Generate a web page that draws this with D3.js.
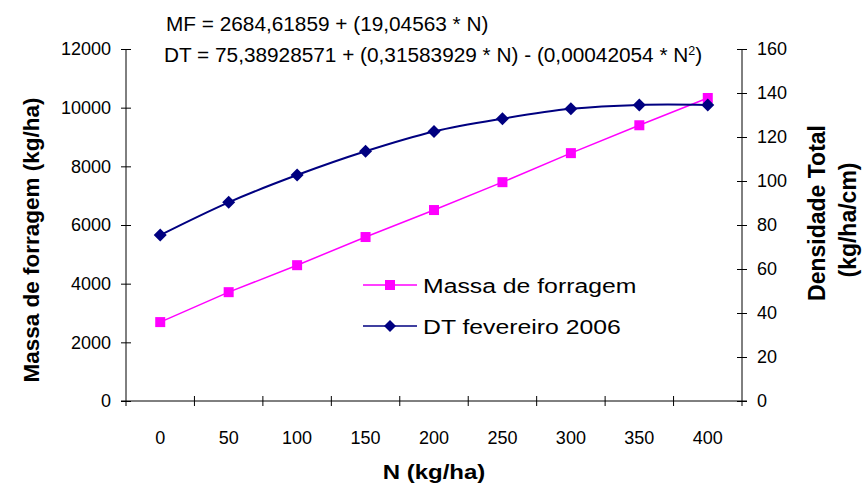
<!DOCTYPE html>
<html><head><meta charset="utf-8">
<script src="https://cdn.jsdelivr.net/npm/d3@7"></script>
<style>body{margin:0;background:#fff}text{font-family:"Liberation Sans",Arial,sans-serif}</style>
</head><body><svg id="c" width="864" height="489"></svg>
<script>
const categories = ["0","50","100","150","200","250","300","350","400"];
const massaForragem = [2690, 3710, 4630, 5590, 6510, 7460, 8450, 9400, 10330];
const dtFevereiro = [75.4, 90.3, 102.7, 113.5, 122.5, 128.3, 132.8, 134.6, 134.6];
const leftTicks = [0,2000,4000,6000,8000,10000,12000];
const rightTicks = [0,20,40,60,80,100,120,140,160];
const seriesNames = ["Massa de forragem","DT fevereiro 2006"];
const equations = ["MF = 2684,61859 + (19,04563 * N)","DT = 75,38928571 + (0,31583929 * N) - (0,00042054 * N"];

const svg = d3.select("#c");
const L = 126, R = 742, T = 49, B = 401;
const x = d3.scaleBand().domain(categories).range([L, R]);
const yL = d3.scaleLinear().domain([0,12000]).range([B, T]);
const yR = d3.scaleLinear().domain([0,160]).range([B, T]);

const axL = svg.append("g").attr("transform",`translate(${L},0)`)
  .call(d3.axisLeft(yL).tickValues(leftTicks).tickSize(5).tickPadding(10).tickFormat(d3.format("d")));
axL.selectAll(".tick line").attr("x2",5).attr("x1",-5);
const axR = svg.append("g").attr("transform",`translate(${R},0)`)
  .call(d3.axisRight(yR).tickValues(rightTicks).tickSize(5).tickPadding(10));
axR.selectAll(".tick line").attr("x1",-5).attr("x2",5);
const axB = svg.append("g").attr("transform",`translate(0,${B})`)
  .call(d3.axisBottom(x).tickSize(0).tickPadding(30));
axB.selectAll(".bt").data(categories.slice(1)).enter().append("line")
  .attr("x1",d=>x(d)).attr("x2",d=>x(d)).attr("y1",-5).attr("y2",5).attr("stroke","#000");
axB.append("line").attr("x1",L-5).attr("x2",L).attr("y1",0).attr("y2",0).attr("stroke","#000");
axB.append("line").attr("x1",R).attr("x2",R+5).attr("y1",0).attr("y2",0).attr("stroke","#000");
[axL,axR,axB].forEach(a=>{
  a.select(".domain").remove();
  a.selectAll("text").attr("font-size","18px").attr("fill","#000").style("font-family","'Liberation Sans',Arial,sans-serif");
  a.selectAll(".tick line").attr("stroke","#000");
});
svg.append("line").attr("x1",L).attr("x2",L).attr("y1",T).attr("y2",B+5).attr("stroke","#000");
svg.append("line").attr("x1",R).attr("x2",R).attr("y1",T).attr("y2",B+5).attr("stroke","#000");
svg.append("line").attr("x1",L).attr("x2",R).attr("y1",B).attr("y2",B).attr("stroke","#000");

const cx = d => x(d) + x.bandwidth()/2;
const mfColor = "#FF00FF", dtColor = "#000080";

svg.append("path").datum(categories)
  .attr("d", d3.line().x(cx).y((d,i)=>yL(massaForragem[i])))
  .attr("fill","none").attr("stroke",mfColor).attr("stroke-width",1.5);
svg.append("path").datum(categories)
  .attr("d", d3.line().x(cx).y((d,i)=>yR(dtFevereiro[i])).curve(d3.curveCatmullRom))
  .attr("fill","none").attr("stroke",dtColor).attr("stroke-width",2);

svg.selectAll(".mf").data(categories).enter().append("rect")
  .attr("x",d=>cx(d)-5).attr("y",(d,i)=>yL(massaForragem[i])-5).attr("width",10).attr("height",10).attr("fill",mfColor);
svg.selectAll(".dt").data(categories).enter().append("path")
  .attr("transform",(d,i)=>`translate(${cx(d)},${yR(dtFevereiro[i])})`)
  .attr("d","M0,-6.5L6.5,0L0,6.5L-6.5,0Z").attr("fill",dtColor);

// legend
const lg = svg.append("g");
[[mfColor,"sq",285],[dtColor,"di",326]].forEach(([c,m,yy],i)=>{
  lg.append("line").attr("x1",363).attr("x2",417).attr("y1",yy).attr("y2",yy).attr("stroke",c).attr("stroke-width",1.5);
  if(m==="sq") lg.append("rect").attr("x",385).attr("y",yy-5).attr("width",10).attr("height",10).attr("fill",c);
  else lg.append("path").attr("transform",`translate(390,${yy})`).attr("d","M0,-6L6,0L0,6L-6,0Z").attr("fill",c);
  lg.append("text").attr("transform",`translate(423,${yy+7.5}) scale(1.18,1)`).attr("font-size","21px").text(seriesNames[i]);
});

// equations
svg.append("text").attr("transform","translate(166,31) scale(1.04,1)").attr("font-size","20px").text(equations[0]);
const eq2 = svg.append("text").attr("transform","translate(164,62) scale(1.04,1)").attr("font-size","20px");
eq2.append("tspan").text(equations[1]);
eq2.append("tspan").attr("font-size","12px").attr("dy",-7).text("2");
eq2.append("tspan").attr("dy",7).text(")");

// axis titles
svg.append("text").attr("transform","translate(39,240) rotate(-90)").attr("text-anchor","middle")
  .attr("font-size","22.5px").attr("font-weight","bold").text("Massa de forragem (kg/ha)");
svg.append("text").attr("transform","translate(825,213) rotate(-90)").attr("text-anchor","middle")
  .attr("font-size","23px").attr("font-weight","bold").text("Densidade Total");
svg.append("text").attr("transform","translate(856,220) rotate(-90)").attr("text-anchor","middle")
  .attr("font-size","23px").attr("font-weight","bold").text("(kg/ha/cm)");
svg.append("text").attr("transform","translate(434,479) scale(1.2,1)").attr("text-anchor","middle")
  .attr("font-size","20px").attr("font-weight","bold").text("N (kg/ha)");
</script></body></html>
